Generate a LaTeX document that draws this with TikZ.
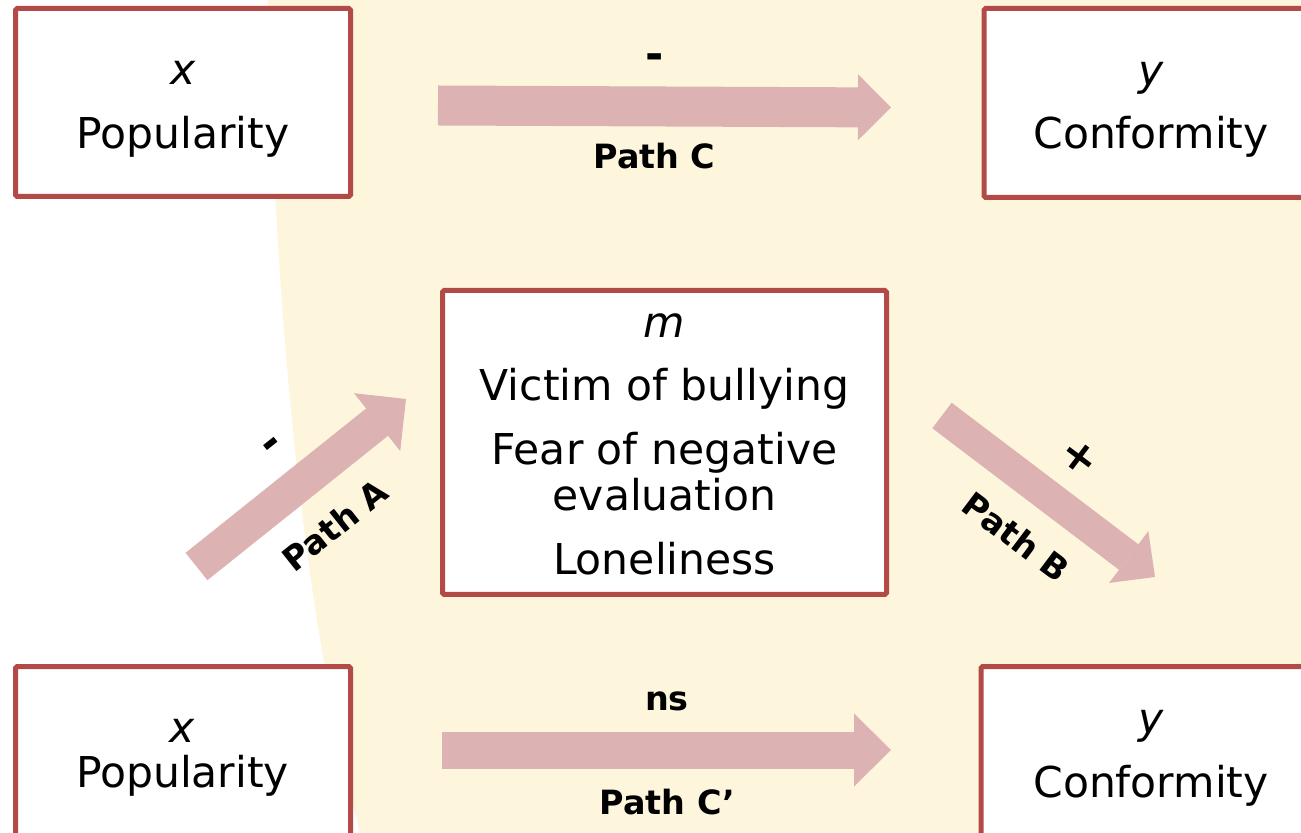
\documentclass[tikz,border=0pt]{standalone}
\usepackage{fontspec}
\setmainfont{DejaVu Sans}
\usetikzlibrary{arrows.meta}
\definecolor{cream}{RGB}{253,246,221}
\definecolor{boxred}{RGB}{178,75,71}
\definecolor{arrowpink}{RGB}{220,178,178}

\begin{document}
\begin{tikzpicture}[x=0.5pt,y=-0.5pt,
  varbox/.style={draw=boxred, line width=2.5pt, fill=white, rectangle,
    rounded corners=0.8pt, inner sep=0pt},
  txt/.style={inner sep=0pt, anchor=base, font=\fontsize{21.25pt}{23pt}\selectfont},
  vartxt/.style={txt, font=\fontsize{21.25pt}{23pt}\selectfont\itshape},
  pathlbl/.style={inner sep=0pt, font=\fontsize{16.7pt}{18pt}\selectfont\bfseries},
  signlbl/.style={inner sep=0pt, font=\fontsize{22pt}{24pt}\selectfont\bfseries},
  fat/.style args={#1/#2/#3}{draw=arrowpink, line width=#1,
    -{Triangle[length=#2, width=#3, line width=0pt]}}
]
\useasboundingbox (0,0) rectangle (1301,833);
\clip (0,0) rectangle (1301,833);

% background
\fill[white] (0,0) rectangle (1301,833);
\fill[cream] (268,0) .. controls (275,300) and (300,600) .. (360,833)
  -- (1301,833) -- (1301,0) -- cycle;

% variable boxes
\node[varbox, minimum width=167.5pt, minimum height=94pt] (xtop) at (183,102.5) {};
\node[varbox, minimum width=168pt, minimum height=94.5pt] (ytop) at (1152,103) {};
\node[varbox, minimum width=222pt, minimum height=152pt] (med) at (664.5,442.5) {};
\node[varbox, minimum width=167.5pt, minimum height=95pt] (xbot) at (183,761.5) {};
\node[varbox, minimum width=170pt, minimum height=95pt] (ybot) at (1151,761.5) {};

% box texts
\node[vartxt] (xtop1) at (183,85) {x};
\node[txt] (xtop2) at (183,149) {Popularity};
\node[vartxt] (ytop1) at (1151,86) {y};
\node[txt] (ytop2) at (1151,149) {Conformity};
\node[vartxt] (med1) at (664.5,338) {m};
\node[txt] (med2) at (664.5,401) {Victim of bullying};
\node[txt] (med3) at (664.5,465) {Fear of negative};
\node[txt] (med4) at (664.5,511) {evaluation};
\node[txt] (med5) at (664.5,575) {Loneliness};
\node[vartxt] (xbot1) at (182.5,742) {x};
\node[txt] (xbot2) at (182.5,787) {Popularity};
\node[vartxt] (ybot1) at (1151,733) {y};
\node[txt] (ybot2) at (1151,797) {Conformity};

% path arrows
\coordinate (cS) at (438,105.5);  \coordinate (cE) at (891,107.5);
\coordinate (aS) at (196.5,566.5); \coordinate (aE) at (406,399);
\coordinate (bS) at (942,415.5);  \coordinate (bE) at (1155,577);
\coordinate (dS) at (442,750);    \coordinate (dE) at (891,750);
\draw[fat=20pt/16.5pt/33pt] (cS) -- (cE);
\draw[fat=17.5pt/18.5pt/37pt] (aS) -- (aE);
\draw[fat=16pt/16.5pt/32.5pt] (bS) -- (bE);
\draw[fat=18.5pt/18.5pt/36.5pt] (dS) -- (dE);

% path labels
\node[signlbl] (cSign) at (655,62) {-};
\node[pathlbl, anchor=base] (cName) at (654.5,169) {Path C};
\node[signlbl, rotate=38.5] (aSign) at (274,448) {-};
\node[pathlbl, rotate=38.5] (aName) at (335,525) {Path A};
\node[signlbl, rotate=-37] (bSign) at (1080,458) {+};
\node[pathlbl, rotate=-37] (bName) at (1016,537) {Path B};
\node[pathlbl, anchor=base] (dSign) at (667,710) {ns};
\node[pathlbl, anchor=base] (dName) at (667.5,814) {Path C’};
\end{tikzpicture}
\end{document}
